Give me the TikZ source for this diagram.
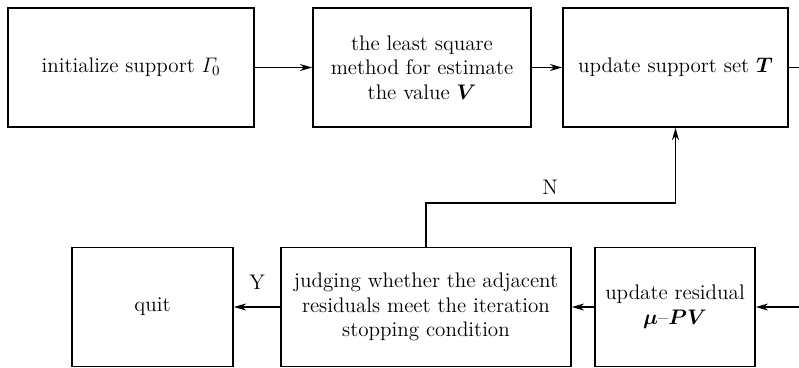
\documentclass[tikz,border=0pt]{standalone}
\usepackage{amsmath}
\usepackage{bm}
\usetikzlibrary{arrows.meta}

\begin{document}
\begin{tikzpicture}
[x=0.02cm,y=-0.02cm,every node/.style={draw,line width=1pt,align=center,font=\large,minimum height=2.38cm}]
  \useasboundingbox (0,0) rectangle (799,368);

  \node (init) at (131,67.5) [minimum width=4.92cm] {initialize support $\varGamma_{\!0}$};
  \node (lsq) at (422,67.5) [minimum width=4.36cm] {the least square\\method for estimate\\the value $\bm{V}$};
  \node (upT) at (675.5,67.5) [minimum width=4.5cm] {update support set $\bm{T}$};

  \node (quit) at (152.5,307) [minimum width=3.22cm] {quit};
  \node (judge) at (426,307) [minimum width=5.8cm] {judging whether the adjacent\\residuals meet the iteration\\stopping condition};
  \node (res) at (675,307) [minimum width=3.2cm] {update residual\\$\bm{\mu}$--$\bm{PV}$};

  \coordinate (r1) at (799,67.5);
  \coordinate (r2) at (799,307);
  \coordinate (bend) at (426,203);

  \foreach \from/\to in {init/lsq,lsq/upT,r2/res,res/judge,judge/quit}
    \draw[-{Stealth[length=7pt,width=4pt]},line width=0.8pt] (\from) -- (\to);
  \draw[line width=0.8pt] (upT) -- (r1);
  \draw[-{Stealth[length=7pt,width=4pt]},line width=0.8pt] (judge) -- (bend) -| (upT);

  \node[draw=none,minimum height=0pt] (lN) at (550,187) {N};
  \node[draw=none,minimum height=0pt] (lY) at (257,282) {Y};
\end{tikzpicture}
\end{document}
